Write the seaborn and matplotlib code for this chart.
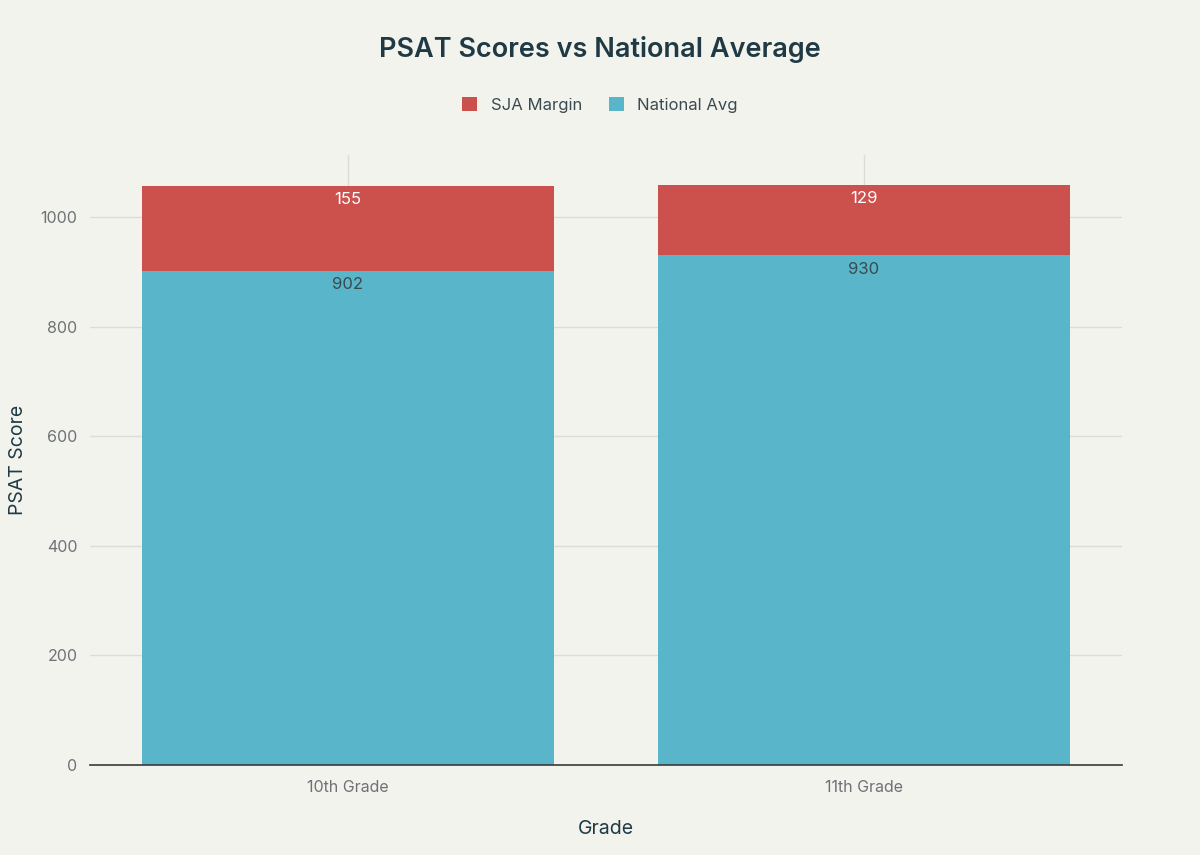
import matplotlib
matplotlib.use("Agg")
import matplotlib.pyplot as plt
from matplotlib.patches import Patch
import seaborn as sns
import pandas as pd

grades = ["10th Grade", "11th Grade"]
national_avg = [902, 930]
sja_margin = [155, 129]
y_ticks = [0, 200, 400, 600, 800, 1000]

RED = "#cc504c"
TEAL = "#58b5ca"
BG = "#f3f3ee"
DARK = "#1f3a44"
GRAY = "#6e7276"

sns.set_theme(style="white")
plt.rcParams["font.family"] = ["Inter", "DejaVu Sans"]

df = pd.DataFrame({"Grade": grades, "National": national_avg, "Margin": sja_margin})
df["Total"] = df["National"] + df["Margin"]

fig = plt.figure(figsize=(12, 8.55), dpi=100, facecolor=BG)
ax = fig.add_axes([0.075, 0.1053, 0.86, 0.7134])
ax.set_facecolor(BG)

ax.set_axisbelow(True)
for t in y_ticks[1:]:
    ax.axhline(t, color="#dcdcd8", lw=1, zorder=0)
for i in range(len(grades)):
    ax.axvline(i, color="#dcdcd8", lw=1, zorder=0)

sns.barplot(data=df, x="Grade", y="Total", color=RED, width=0.8, saturation=1,
            ax=ax, zorder=2, linewidth=0)
sns.barplot(data=df, x="Grade", y="National", color=TEAL, width=0.8, saturation=1,
            ax=ax, zorder=3, linewidth=0)

for i, row in df.iterrows():
    ax.text(i, row["Total"] - 12, f"{row['Margin']}", ha="center", va="top",
            color="white", fontsize=12, zorder=5)
    ax.text(i, row["National"] - 12, f"{row['National']}", ha="center", va="top",
            color="#3a4a50", fontsize=12, zorder=5)

ax.set_xlim(-0.5, 1.5)
ax.set_ylim(0, 1113)
ax.set_yticks(y_ticks)
ax.tick_params(axis="both", colors="#c8c8c4", labelcolor=GRAY, labelsize=11.5,
               length=5, width=1)
ax.tick_params(axis="y", pad=4)
ax.tick_params(axis="x", pad=6)
for s in ["top", "right", "left"]:
    ax.spines[s].set_visible(False)
ax.spines["bottom"].set_color("#3a3a3a")
ax.spines["bottom"].set_linewidth(1.2)
ax.spines["bottom"].set_zorder(6)

ax.set_xlabel("Grade", fontsize=14, color=DARK, labelpad=18)
ax.set_ylabel("PSAT Score", fontsize=14, color=DARK, labelpad=10)

fig.suptitle("PSAT Scores vs National Average", x=0.5, y=0.958, fontsize=19.5,
             fontweight="semibold", color=DARK)

handles = [Patch(facecolor=RED, edgecolor="none", label="SJA Margin"),
           Patch(facecolor=TEAL, edgecolor="none", label="National Avg")]
fig.legend(handles=handles, loc="center", bbox_to_anchor=(0.5, 0.877), ncol=2,
           frameon=False, fontsize=12, handlelength=0.9, handleheight=0.9,
           handletextpad=0.8, columnspacing=1.6, labelcolor="#3a4a50")

fig.savefig("out.png", dpi=100, facecolor=BG)
